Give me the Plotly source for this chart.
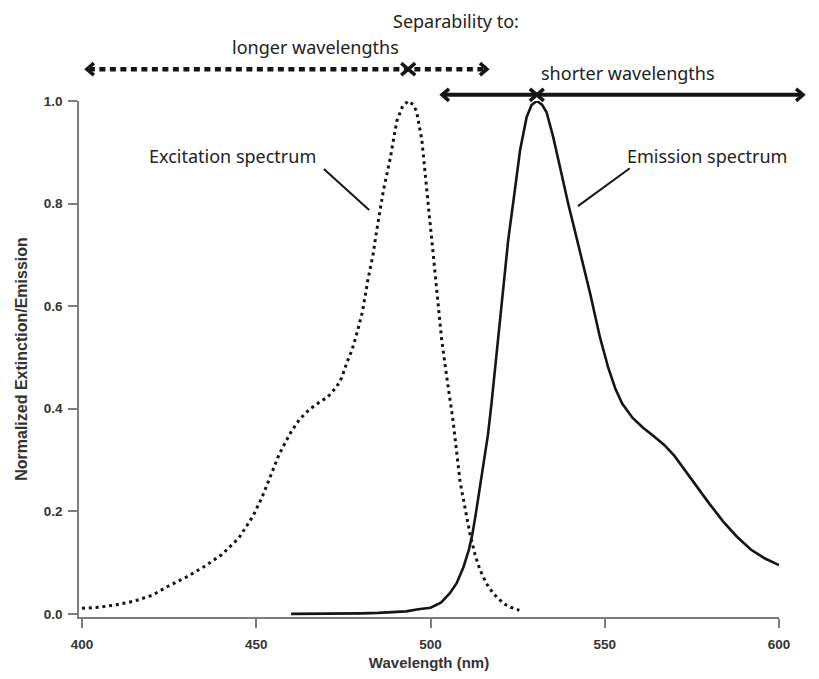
import plotly.graph_objects as go

# ---------------- data ----------------
exc_nm = [400, 405, 410, 415, 420, 425, 430, 435, 440, 445, 449, 451.5, 453, 455, 456.5,
          458, 460, 462.5, 465.5, 468, 470.5, 473, 474.5, 476, 477.5, 479, 480.5, 482,
          483.5, 484.5, 486.5, 488.5, 490.3, 492, 493.6, 495, 496, 497.5, 499, 500.3,
          501.8, 503.2, 504.6, 506.5, 508.5, 510, 511.3, 512.8, 514.2, 516, 518, 521,
          523, 525.5]
exc_val = [0.011, 0.013, 0.018, 0.025, 0.036, 0.055, 0.072, 0.092, 0.115, 0.148, 0.19,
           0.225, 0.25, 0.285, 0.31, 0.33, 0.355, 0.38, 0.40, 0.412, 0.423, 0.442, 0.46,
           0.49, 0.515, 0.55, 0.59, 0.65, 0.70, 0.745, 0.826, 0.89, 0.96, 0.99, 1.0,
           0.993, 0.98, 0.925, 0.826, 0.73, 0.63, 0.535, 0.465, 0.375, 0.257, 0.2,
           0.157, 0.115, 0.086, 0.06, 0.04, 0.02, 0.013, 0.007]

em_nm = [460, 470, 480, 485, 490, 493, 496.5, 500, 503, 505.5, 507.5, 509.5, 511, 512,
         513, 514, 515, 516.5, 517.5, 518.5, 519.5, 520.4, 521.3, 522.3, 524.2, 525.7,
         527.6, 529, 530.5, 532, 533.3, 535.2, 537.2, 539.5, 542.4, 545.8, 548.6, 551,
         553, 555, 558, 561, 564, 567, 570, 573, 576, 580, 584, 588, 592, 596, 600]
em_val = [0.0, 0.0, 0.001, 0.002, 0.003, 0.005, 0.009, 0.012, 0.022, 0.04, 0.06, 0.092,
          0.125, 0.155, 0.195, 0.24, 0.29, 0.35, 0.41, 0.475, 0.54, 0.61, 0.67, 0.729,
          0.826, 0.904, 0.969, 0.992, 1.0, 0.993, 0.978, 0.93, 0.87, 0.80, 0.72,
          0.625, 0.54, 0.48, 0.44, 0.41, 0.382, 0.363, 0.347, 0.33, 0.308, 0.28, 0.25,
          0.215, 0.18, 0.15, 0.125, 0.108, 0.095]

x_ticks = [400, 450, 500, 550, 600]
y_ticks = [0.0, 0.2, 0.4, 0.6, 0.8, 1.0]

exc_peak = 493.6
em_peak = 530.5
# separability arrows (nm extents, level)
long_range = [401.4, 516.2]
long_level = 1.062
short_range = [503.3, 606.9]
short_level = 1.012

# ---------------- layout helpers ----------------
XR = [399.14, 600.0]
YR = [-0.006, 1.0]
OFF = 8  # page body margin
ML, MR, MT, MB = 79 - OFF, 40 + OFF, 101 - OFF, 62 + OFF
W, H = 819, 679
PW, PH = W - ML - MR, H - MT - MB


def px(x):
    return (x - XR[0]) / (XR[1] - XR[0])


def py(y):
    return (y - YR[0]) / (YR[1] - YR[0])


INK = "#151515"
AX = "#7d7d7d"

fig = go.Figure()
fig.add_trace(go.Scatter(x=exc_nm, y=exc_val, mode="lines", name="Excitation spectrum",
                         line=dict(color=INK, width=3, dash="3px,3.8px"),
                         showlegend=False))
fig.add_trace(go.Scatter(x=em_nm, y=em_val, mode="lines", name="Emission spectrum",
                         line=dict(color=INK, width=2.6),
                         showlegend=False))

shapes = []


def chevron(x, y, direction, width=3.5, size=(7, 6)):
    # direction -1 = points left, +1 = points right
    tx, ty = px(x), py(y)
    dx = size[0] / PW * (-direction)
    dy = size[1] / PH
    path = f"M {tx+dx},{ty+dy} L {tx},{ty} L {tx+dx},{ty-dy}"
    shapes.append(dict(type="path", xref="paper", yref="paper", path=path,
                       line=dict(color=INK, width=width)))


# dotted arrow (longer wavelengths)
shapes.append(dict(type="line", xref="paper", yref="paper",
                   x0=px(long_range[0]) + 2 / PW, x1=px(long_range[1]) - 2 / PW,
                   y0=py(long_level), y1=py(long_level),
                   line=dict(color=INK, width=4.5, dash="6px,4.5px")))
chevron(long_range[0], long_level, -1)
chevron(long_range[1], long_level, +1)
chevron(exc_peak, long_level, +1)
chevron(exc_peak, long_level, -1)

# solid arrow (shorter wavelengths)
shapes.append(dict(type="line", xref="paper", yref="paper",
                   x0=px(short_range[0]) + 1 / PW, x1=px(short_range[1]) - 1 / PW,
                   y0=py(short_level), y1=py(short_level),
                   line=dict(color=INK, width=4)))
chevron(short_range[0], short_level, -1)
chevron(short_range[1], short_level, +1)
chevron(em_peak, short_level, +1)
chevron(em_peak, short_level, -1)

# leader lines
shapes.append(dict(type="line", xref="paper", yref="paper",
                   x0=px(469.4), y0=py(0.8675), x1=px(482.4), y1=py(0.7875),
                   line=dict(color=INK, width=2)))
shapes.append(dict(type="line", xref="paper", yref="paper",
                   x0=px(557.2), y0=py(0.869), x1=px(542.3), y1=py(0.795),
                   line=dict(color=INK, width=2)))

TXT = dict(family="Noto Sans, Open Sans, sans-serif", size=18, color="#222")
annotations = []
for text, x, y in [("Separability to:", 507.3, 1.156),
                   ("longer wavelengths", 467.1, 1.105),
                   ("shorter wavelengths", 556.7, 1.054),
                   ("Excitation spectrum", 443.3, 0.893),
                   ("Emission spectrum", 579.2, 0.893)]:
    annotations.append(dict(text=text, xref="paper", yref="paper", x=px(x), y=py(y),
                            xanchor="center", yanchor="middle", showarrow=False,
                            font=TXT))

BOLD = "Liberation Sans, Arial, sans-serif"
TICKFONT = dict(family=BOLD, size=13.5, color="#333", weight="bold")
XTITLE = dict(family=BOLD, size=15, color="#333", weight="bold")
YTITLE = dict(family=BOLD, size=16, color="#333", weight="bold")

fig.update_layout(
    width=W, height=H,
    margin=dict(l=ML, r=MR, t=MT, b=MB, autoexpand=False),
    paper_bgcolor="white", plot_bgcolor="white",
    shapes=shapes, annotations=annotations,
    xaxis=dict(range=XR, tickvals=x_ticks, ticks="outside", ticklen=9, tickwidth=1.5,
               tickcolor=AX, showline=True, linecolor=AX, linewidth=1.5,
               showgrid=False, zeroline=False, tickfont=TICKFONT, ticklabelstandoff=5,
               title=dict(text="Wavelength (nm)", font=XTITLE, standoff=7),
               automargin=False),
    yaxis=dict(range=YR, tickvals=y_ticks, tickformat=".1f", ticks="outside", ticklen=9,
               tickwidth=1.5, tickcolor=AX, showline=True, linecolor=AX, linewidth=1.5,
               showgrid=False, zeroline=False, tickfont=TICKFONT, ticklabelstandoff=3,
               title=dict(text="Normalized Extinction/Emission", font=YTITLE,
                          standoff=12),
               automargin=False),
)

fig.write_html("out.html")
